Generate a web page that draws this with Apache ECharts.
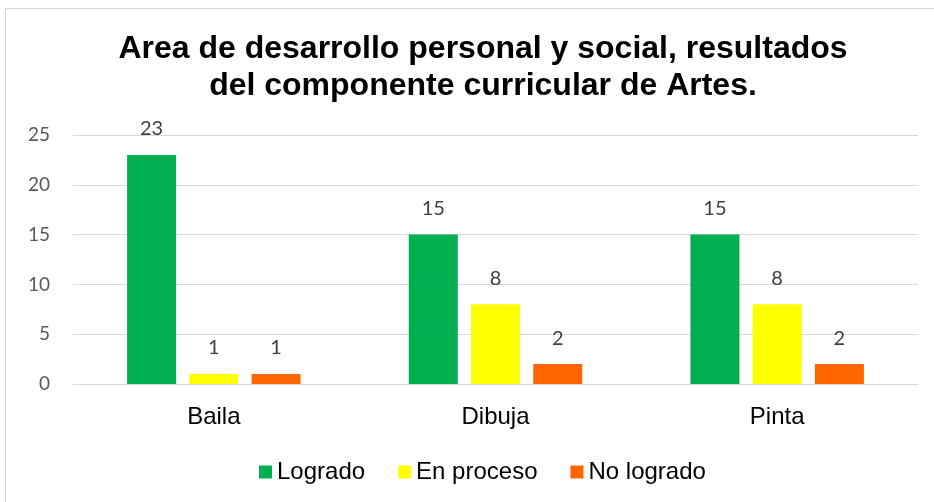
<!DOCTYPE html>
<html>
<head>
<meta charset="utf-8">
<script src="https://cdn.jsdelivr.net/npm/echarts@6/dist/echarts.min.js"></script>
<style>
    html, body { margin: 0; padding: 0; background: #fff; }
    #chart { width: 934px; height: 502px; }
    .frame {
        position: absolute; left: 5px; top: 8px; width: 940px; height: 500px;
        border: 1px solid #d9d9d9; pointer-events: none;
    }
</style>
</head>
<body>
<div id="chart"></div>
<div class="frame"></div>
<script>
// categorías y valores
const categories = ['Baila', 'Dibuja', 'Pinta']
const logrado = [23, 15, 15]
const enProceso = [1, 8, 8]
const noLogrado = [1, 2, 2]

const COLOR = {
    green: '#00B050',
    yellow: '#FFFF00',
    orange: '#FF6600',
    line: '#D9D9D9',
    label: '#404040'
}

function makeSeries(name, data, color) {
    return {
        name: name,
        type: 'bar',
        data: data,
        barWidth: 49,
        barGap: '27%',
        itemStyle: { color: color },
        label: {
            show: true,
            position: 'top',
            distance: 16,
            color: COLOR.label,
            fontSize: 20,
            fontFamily: 'Lato'
        }
    }
}

const chart = echarts.init(document.getElementById('chart'))
chart.setOption({
    animation: false,
    title: {
        text: 'Area de desarrollo personal y social, resultados\ndel componente curricular de Artes.',
        left: 478,
        textAlign: 'center', // centrado en x = 478 como el original
        top: 26,
        textStyle: {
            fontFamily: 'Liberation Sans',
            fontSize: 32,
            fontWeight: 'bold',
            color: '#000',
            lineHeight: 37
        }
    },
    legend: {
        top: 455,
        left: 254,
        itemWidth: 13,
        itemHeight: 13,
        itemGap: 33,
        icon: 'rect',
        textStyle: { fontFamily: 'Liberation Sans', fontSize: 24, color: '#000' },
        data: ['Logrado', 'En proceso', 'No logrado']
    },
    grid: { left: 73, right: 16, top: 135, bottom: 118 },
    xAxis: {
        type: 'category',
        data: categories,
        axisTick: { show: false },
        axisLine: { lineStyle: { color: COLOR.line, width: 1 } },
        axisLabel: { margin: 21, fontSize: 24, color: '#000', fontFamily: 'Liberation Sans' }
    },
    yAxis: {
        type: 'value',
        min: 0,
        max: 25,
        interval: 5,
        axisLine: { show: false },
        axisTick: { show: false },
        axisLabel: { margin: 23, fontSize: 19, color: '#595959', fontFamily: 'Lato' },
        splitLine: { lineStyle: { color: COLOR.line, width: 1 } }
    },
    series: [
        makeSeries('Logrado', logrado, COLOR.green),
        makeSeries('En proceso', enProceso, COLOR.yellow),
        makeSeries('No logrado', noLogrado, COLOR.orange)
    ]
})
</script>
</body>
</html>
